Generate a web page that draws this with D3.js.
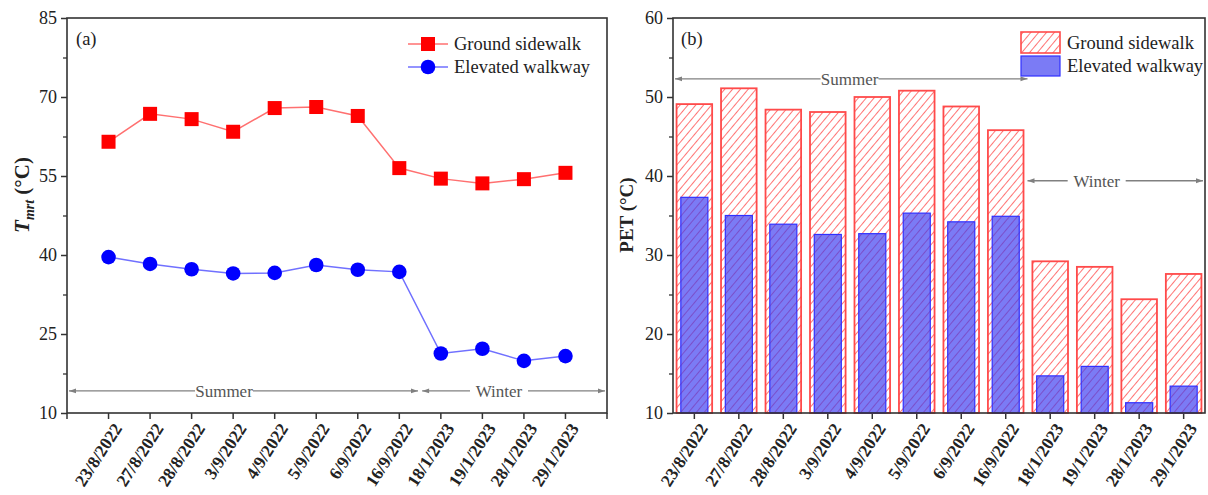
<!DOCTYPE html>
<html><head><meta charset="utf-8">
<script src="https://cdn.jsdelivr.net/npm/d3@7"></script>
<style>body{margin:0;background:#fff}svg{font-family:"Liberation Serif","Times New Roman",serif}</style>
</head><body><svg id="c" width="1208" height="495"></svg>
<script>
const dates = ["23/8/2022","27/8/2022","28/8/2022","3/9/2022","4/9/2022","5/9/2022","6/9/2022","16/9/2022","18/1/2023","19/1/2023","28/1/2023","29/1/2023"];
const tmrtGround = [61.5,66.8,65.8,63.4,67.9,68.1,66.4,56.5,54.5,53.6,54.4,55.6];
const tmrtElevated = [39.6,38.3,37.3,36.5,36.6,38.1,37.2,36.8,21.3,22.2,19.9,20.8];
const petGround = [49.1,51.1,48.4,48.1,50.0,50.8,48.8,45.8,29.2,28.5,24.4,27.6];
const petElevated = [37.3,35.0,33.9,32.6,32.7,35.3,34.2,34.9,14.7,15.9,11.3,13.4];
const tmrtTicks = [10,25,40,55,70,85];
const petTicks = [10,20,30,40,50,60];
const seriesNames = ["Ground sidewalk","Elevated walkway"];

const svg = d3.select("#c");
const defs = svg.append("defs");
const pat = defs.append("pattern").attr("id","hatch").attr("patternUnits","userSpaceOnUse")
  .attr("width",6).attr("height",6).attr("patternTransform","rotate(40)");
pat.append("rect").attr("width",6).attr("height",6).attr("fill","#fff");
pat.append("line").attr("x1",0).attr("y1",0).attr("x2",0).attr("y2",6).attr("stroke","#ff2a2a").attr("stroke-width",1.3);
defs.append("marker").attr("id","arr").attr("viewBox","0 0 10 10").attr("refX",10).attr("refY",5)
  .attr("markerWidth",9).attr("markerHeight",7).attr("orient","auto-start-reverse").attr("markerUnits","userSpaceOnUse")
  .append("path").attr("d","M0,1.5L10,5L0,8.5Z").attr("fill","#808080");

const axisColor = "#333";
function frame(g, x0, x1, y0, y1){
  g.append("rect").attr("x",x0).attr("y",y0).attr("width",x1-x0).attr("height",y1-y0)
    .attr("fill","none").attr("stroke",axisColor).attr("stroke-width",1.6);
}
function yAxis(g, y, ticks, x0){
  const minor = [];
  for (let i=0;i<ticks.length-1;i++) minor.push((ticks[i]+ticks[i+1])/2);
  const ax = g.append("g").attr("transform",`translate(${x0},0)`)
    .call(d3.axisLeft(y).tickValues(ticks).tickSize(6).tickPadding(4).tickFormat(d3.format("d")));
  ax.select(".domain").remove();
  ax.selectAll("line").attr("stroke",axisColor).attr("stroke-width",1.5);
  ax.selectAll("text").attr("font-size",18).attr("fill","#222").attr("font-family","Liberation Serif");
  const mx = g.append("g").attr("transform",`translate(${x0},0)`)
    .call(d3.axisLeft(y).tickValues(minor).tickSize(4).tickFormat(""));
  mx.select(".domain").remove();
  mx.selectAll("line").attr("stroke",axisColor).attr("stroke-width",1.3);
}
function xLabels(g, positions, yb){
  const lab = g.append("g");
  dates.forEach((d,i)=>{
    lab.append("line").attr("x1",positions[i]).attr("x2",positions[i]).attr("y1",yb).attr("y2",yb+6)
      .attr("stroke",axisColor).attr("stroke-width",1.5);
    lab.append("text").attr("transform",`translate(${positions[i]+9},${yb+12}) rotate(-57)`)
      .attr("text-anchor","end").attr("dy","0.35em").attr("font-size",17.5).attr("font-weight","bold")
      .attr("fill","#222").text(d);
  });
}
function seasonArrow(g, xa, xb, yv, label, xc){
  const tw = label.length*8/2 + 5;
  g.append("line").attr("x1",xc-tw).attr("x2",xa).attr("y1",yv).attr("y2",yv)
    .attr("stroke","#808080").attr("stroke-width",1.3).attr("marker-end","url(#arr)");
  g.append("line").attr("x1",xc+tw).attr("x2",xb).attr("y1",yv).attr("y2",yv)
    .attr("stroke","#808080").attr("stroke-width",1.3).attr("marker-end","url(#arr)");
  g.append("text").attr("x",xc).attr("y",yv).attr("dy","0.35em").attr("text-anchor","middle")
    .attr("font-size",17).attr("fill","#555").text(label);
}

// ---------- Panel (a) ----------
const A = {x0:67,x1:607,y0:18,y1:413};
const ga = svg.append("g");
const xa = d3.scaleLinear().domain([0,13]).range([A.x0,A.x1]);
const ya = d3.scaleLinear().domain([10,85]).range([A.y1,A.y0]);
yAxis(ga, ya, tmrtTicks, A.x0);
[0,13].forEach(v=>ga.append("line").attr("x1",xa(v)).attr("x2",xa(v)).attr("y1",A.y1).attr("y2",A.y1+6).attr("stroke",axisColor).attr("stroke-width",1.5));
xLabels(ga, dates.map((d,i)=>xa(i+1)), A.y1);

seasonArrow(ga, xa(0)+2, xa(8.45), ya(14.2), "Summer", xa(3.78));
seasonArrow(ga, xa(8.55), xa(13)-2, ya(14.2), "Winter", xa(10.4));

const line = d3.line().x((d,i)=>xa(i+1)).y(d=>ya(d));
ga.append("path").datum(tmrtGround).attr("d",line).attr("fill","none").attr("stroke","#ff7070").attr("stroke-width",1.5);
ga.append("path").datum(tmrtElevated).attr("d",line).attr("fill","none").attr("stroke","#7070ff").attr("stroke-width",1.5);
ga.selectAll(".sq").data(tmrtGround).join("rect").attr("x",(d,i)=>xa(i+1)-7).attr("y",d=>ya(d)-7)
  .attr("width",14).attr("height",14).attr("fill","#ff0000");
ga.selectAll(".ci").data(tmrtElevated).join("circle").attr("cx",(d,i)=>xa(i+1)).attr("cy",d=>ya(d))
  .attr("r",7.3).attr("fill","#0000ff");
frame(ga, A.x0, A.x1, A.y0, A.y1);
ga.append("text").attr("x",76).attr("y",45).attr("font-size",18.5).attr("fill","#222").text("(a)");
const la = ga.append("g");
[[ "#ff7070","#ff0000","sq",44],["#7070ff","#0000ff","ci",67]].forEach((s,i)=>{
  la.append("line").attr("x1",408).attr("x2",448).attr("y1",s[3]).attr("y2",s[3]).attr("stroke",s[0]).attr("stroke-width",1.5);
  if(s[2]==="sq") la.append("rect").attr("x",421).attr("y",s[3]-7).attr("width",14).attr("height",14).attr("fill",s[1]);
  else la.append("circle").attr("cx",428).attr("cy",s[3]).attr("r",7.3).attr("fill",s[1]);
  la.append("text").attr("x",454).attr("y",s[3]).attr("dy","0.35em").attr("font-size",18.5).attr("fill","#222").text(seriesNames[i]);
});
const ta = ga.append("text").attr("transform","translate(29,195) rotate(-90)").attr("text-anchor","middle")
  .attr("font-size",21).attr("font-weight","bold").attr("fill","#222");
ta.append("tspan").attr("font-style","italic").text("T");
ta.append("tspan").attr("font-style","italic").attr("font-size",14).attr("dy",5).text("mrt");
ta.append("tspan").attr("dy",-5).text(" (°C)");

// ---------- Panel (b) ----------
const B = {x0:673,x1:1205,y0:18,y1:413};
const gb = svg.append("g");
const xb = d3.scaleBand().domain(dates).range([B.x0,B.x1]).paddingInner(0.2).paddingOuter(0.08);
const yb = d3.scaleLinear().domain([10,60]).range([B.y1,B.y0]);
yAxis(gb, yb, petTicks, B.x0);
xLabels(gb, dates.map(d=>xb(d)+xb.bandwidth()/2), B.y1);
const bw = xb.bandwidth();
gb.selectAll(".rb").data(petGround).join("rect").attr("x",(d,i)=>xb(dates[i])).attr("y",d=>yb(d))
  .attr("width",bw).attr("height",d=>yb(10)-yb(d)).attr("fill","url(#hatch)").attr("stroke","#ff4a4a").attr("stroke-width",1.8);
const ib = bw*0.76;
gb.selectAll(".bb").data(petElevated).join("rect").attr("x",(d,i)=>xb(dates[i])+(bw-ib)/2).attr("y",d=>yb(d))
  .attr("width",ib).attr("height",d=>yb(10)-yb(d)).attr("fill","rgba(60,60,240,0.68)").attr("stroke","#3030ff").attr("stroke-width",1.2);
seasonArrow(gb, B.x0+2, xb(dates[7])+bw+4, yb(52.3), "Summer", xb(dates[3])+bw+4);
seasonArrow(gb, xb(dates[7])+bw+4, B.x1-2, yb(39.4), "Winter", xb(dates[9])+bw/2+2);
frame(gb, B.x0, B.x1, B.y0, B.y1);
gb.append("text").attr("x",681).attr("y",45).attr("font-size",18.5).attr("fill","#222").text("(b)");
const lb = gb.append("g");
lb.append("rect").attr("x",1021).attr("y",32).attr("width",39).attr("height",21).attr("fill","url(#hatch)").attr("stroke","#ff4a4a").attr("stroke-width",1.6);
lb.append("rect").attr("x",1021).attr("y",56).attr("width",39).attr("height",20).attr("fill","rgba(60,60,240,0.68)").attr("stroke","#3030ff").attr("stroke-width",1.2);
lb.append("text").attr("x",1067).attr("y",43).attr("dy","0.35em").attr("font-size",18.5).attr("fill","#222").text(seriesNames[0]);
lb.append("text").attr("x",1067).attr("y",66).attr("dy","0.35em").attr("font-size",18.5).attr("fill","#222").text(seriesNames[1]);
gb.append("text").attr("transform","translate(633,215) rotate(-90)").attr("text-anchor","middle")
  .attr("font-size",19).attr("font-weight","bold").attr("fill","#222").text("PET (°C)");
</script></body></html>
